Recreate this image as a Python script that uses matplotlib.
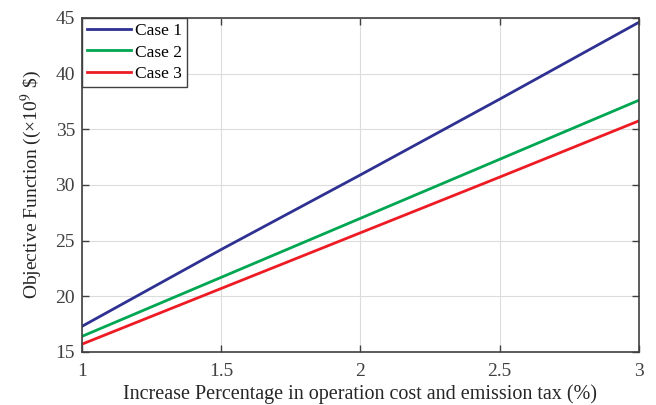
import numpy as np
import matplotlib
matplotlib.use('Agg')
import matplotlib.pyplot as plt

plt.rcParams['font.family'] = ['Liberation Serif', 'DejaVu Serif']
plt.rcParams['mathtext.fontset'] = 'stix'

# aumento percentual nos custos
x = [1.0, 1.5, 2.0, 2.5, 3.0]
case1 = [17.3, 24.2, 30.9, 37.7, 44.6]
case2 = [16.4, 21.7, 27.0, 32.3, 37.6]
case3 = [15.7, 20.7, 25.7, 30.7, 35.75]
labels = ['Case 1', 'Case 2', 'Case 3']
cores = ['#2E3192', '#00A651', '#ED1C24']

fig = plt.figure(figsize=(6.56, 4.05), dpi=100)
ax = fig.add_axes([0.125, 0.131, 0.849, 0.825])

for y, lab, c in zip([case1, case2, case3], labels, cores):
    ax.plot(x, y, color=c, lw=2.0, label=lab)

ax.set_xlim(1, 3)
ax.set_ylim(15, 45)
ax.set_xticks([1, 1.5, 2, 2.5, 3])
ax.set_xticklabels(['1', '1.5', '2', '2.5', '3'])
ax.set_yticks(np.arange(15, 46, 5))
ax.grid(True, color='#dcdcdc', lw=0.8)
ax.tick_params(direction='in', top=True, right=True, labelsize=14,
               colors='#404040', length=5, width=1)
ax.tick_params(axis='x', pad=8)
ax.tick_params(axis='y', pad=5)
for s in ax.spines.values():
    s.set_color('#404040')
    s.set_linewidth(1.2)

ax.set_xlabel('Increase Percentage in operation cost and emission tax (%)',
              fontsize=14.5, color='#262626', labelpad=3)
ax.set_ylabel(r'Objective Function ((×10$^9$ \$)', fontsize=14, color='#262626',
              labelpad=8)

leg = ax.legend(loc='upper left', fontsize=12.5, frameon=True, fancybox=False,
                borderaxespad=0, handlelength=2.5, handletextpad=0.25,
                labelspacing=0.3, borderpad=0.3)
leg.get_frame().set_edgecolor('#404040')
leg.get_frame().set_linewidth(1.0)
leg.get_frame().set_alpha(1)

fig.savefig('out.png', dpi=100)
